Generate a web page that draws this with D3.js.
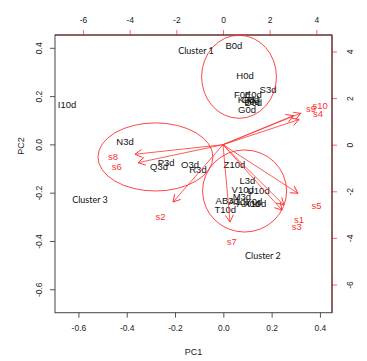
<!DOCTYPE html>
<html>
<head>
<meta charset="utf-8">
<script src="https://cdn.jsdelivr.net/npm/d3@7"></script>
<style>
  body { margin: 0; background: #fff; }
  svg { display: block; font-family: "Liberation Sans", Arial, sans-serif; }
</style>
</head>
<body>
<div class="biplot"></div>
<script>
// PCA scores (PC1, PC2)
var scoreLabels = ["B0d","H0d","S3d","F0d","E0d","K0d","C0d","J0d","D0d","G0d",
                   "I10d","N3d","P3d","Q3d","O3d","R3d","Z10d","L3d","V10d","U10d",
                   "M3d","AB3d","A3d","AA0d","Y0d","X10d","T10d"];
var scoreX = [0.044,0.090,0.185,0.078,0.124,0.095,0.112,0.120,0.124,0.098,
              -0.647,-0.407,-0.237,-0.266,-0.138,-0.105,0.046,0.100,0.080,0.145,
              0.077,0.016,0.056,0.104,0.126,0.132,0.008];
var scoreY = [0.407,0.283,0.225,0.204,0.206,0.187,0.184,0.176,0.172,0.143,
              0.163,0.010,-0.077,-0.094,-0.082,-0.106,-0.082,-0.150,-0.188,-0.193,
              -0.218,-0.232,-0.238,-0.244,-0.236,-0.246,-0.272];

// loadings (secondary axes)
var loadLabels = ["s1","s2","s3","s4","s5","s6","s7","s8","s9","s10"];
var loadX = [2.61,-2.14,2.53,3.26,3.21,-3.64,0.30,-3.77,3.02,3.33];
var loadY = [-2.59,-2.46,-2.81,1.08,-2.08,-0.77,-3.32,-0.41,1.25,1.35];

// cluster ellipses (PC units)
var clusterNames = ["Cluster 1","Cluster 2","Cluster 3"];
var clusterCx = [0.065,0.088,-0.281];
var clusterCy = [0.280,-0.193,-0.052];
var clusterRx = [0.155,0.174,0.238];
var clusterRy = [0.172,0.170,0.141];
var clusterTextX = [-0.113,0.164,-0.552];
var clusterTextY = [0.386,-0.463,-0.231];

var pcTicks = [-0.6,-0.4,-0.2,0,0.2,0.4];
var loadTicks = [-6,-4,-2,0,2,4];

function init() {
  var w = 367;
  var h = 361;
  var left = 55, right = 332, top = 35, bottom = 312.7;

  var xScale = d3.scaleLinear().domain([-0.697, 0.450]).range([left, right]);
  var yScale = d3.scaleLinear().domain([-0.697, 0.453]).range([bottom, top]);
  var x2 = d3.scaleLinear().domain([-7.2, 4.672]).range([left, right]);
  var y2 = d3.scaleLinear().domain([-7.21, 4.708]).range([bottom, top]);

  var svg = d3.select(".biplot")
    .append("svg")
    .attr("width", w)
    .attr("height", h);

  var red = "#ff3030";

  svg.append("defs").append("marker")
    .attr("id", "head")
    .attr("markerUnits", "userSpaceOnUse")
    .attr("viewBox", "-8 -5 10 10")
    .attr("markerWidth", 10)
    .attr("markerHeight", 10)
    .attr("refX", 0)
    .attr("refY", 0)
    .attr("orient", "auto")
    .append("path")
    .attr("d", "M-7,-4L0,0L-7,4")
    .attr("fill", "none")
    .attr("stroke", red)
    .attr("stroke-width", 0.9);

  // primary axes
  var fmt = function(d) { return d.toFixed(1); };
  var bottomAxis = svg.append("g")
    .attr("transform", "translate(0," + bottom + ")")
    .call(d3.axisBottom(xScale).tickValues(pcTicks).tickFormat(fmt).tickSize(5).tickPadding(7));
  var leftAxis = svg.append("g")
    .attr("transform", "translate(" + left + ",0)")
    .call(d3.axisLeft(yScale).tickValues(pcTicks).tickFormat(fmt).tickSize(5).tickPadding(7));
  leftAxis.selectAll("text")
    .attr("transform", "rotate(-90,-16,0)")
    .attr("x", -16)
    .attr("y", 0)
    .attr("dy", "0.35em")
    .attr("text-anchor", "middle");

  // secondary axes
  var fmt2 = function(d) { return String(d); };
  var topAxis = svg.append("g")
    .attr("transform", "translate(0," + top + ")")
    .call(d3.axisTop(x2).tickValues(loadTicks).tickFormat(fmt2).tickSize(5).tickPadding(7));
  var rightAxis = svg.append("g")
    .attr("transform", "translate(" + right + ",0)")
    .call(d3.axisRight(y2).tickValues(loadTicks).tickFormat(fmt2).tickSize(5).tickPadding(7));
  rightAxis.selectAll("text")
    .attr("transform", "rotate(-90,18,0)")
    .attr("x", 18)
    .attr("y", 0)
    .attr("dy", "0.35em")
    .attr("text-anchor", "middle");

  [bottomAxis, leftAxis, topAxis, rightAxis].forEach(function(g) {
    g.select(".domain").remove();
    g.selectAll("text")
      .style("font-size", "8.5px")
      .style("font-family", "Liberation Sans, Arial, sans-serif")
      .style("fill", "#222");
  });
  bottomAxis.selectAll("line").attr("stroke", "#555");
  leftAxis.selectAll("line").attr("stroke", "#555");
  topAxis.selectAll("line").attr("stroke", "#f66");
  rightAxis.selectAll("line").attr("stroke", "#f66");

  // box
  svg.append("rect")
    .attr("x", left).attr("y", top)
    .attr("width", right - left).attr("height", bottom - top)
    .attr("fill", "none").attr("stroke", "#444").attr("stroke-width", 1);
  svg.append("line")
    .attr("x1", left).attr("x2", right).attr("y1", top).attr("y2", top)
    .attr("stroke", "#7a2020").attr("stroke-width", 1);
  svg.append("line")
    .attr("x1", right).attr("x2", right).attr("y1", top).attr("y2", bottom)
    .attr("stroke", "#7a2020").attr("stroke-width", 1);

  // score labels
  svg.selectAll(".score")
    .data(scoreLabels)
    .enter()
    .append("text")
    .attr("class", "score")
    .attr("x", function(d, i) { return xScale(scoreX[i]); })
    .attr("y", function(d, i) { return yScale(scoreY[i]); })
    .attr("dy", "0.35em")
    .attr("text-anchor", "middle")
    .style("font-size", "9.5px")
    .attr("fill", "#111")
    .text(function(d) { return d; });

  // loading arrows
  svg.selectAll(".arrow")
    .data(loadLabels)
    .enter()
    .append("line")
    .attr("class", "arrow")
    .attr("x1", x2(0))
    .attr("y1", y2(0))
    .attr("x2", function(d, i) { return x2(loadX[i]); })
    .attr("y2", function(d, i) { return y2(loadY[i]); })
    .attr("stroke", red)
    .attr("stroke-width", 0.8)
    .attr("marker-end", "url(#head)");

  svg.selectAll(".load")
    .data(loadLabels)
    .enter()
    .append("text")
    .attr("class", "load")
    .attr("x", function(d, i) { return x2(loadX[i] * 1.25); })
    .attr("y", function(d, i) { return y2(loadY[i] * 1.25); })
    .attr("dy", "0.35em")
    .attr("text-anchor", "middle")
    .style("font-size", "9.5px")
    .attr("fill", red)
    .text(function(d) { return d; });

  // clusters
  svg.selectAll(".cluster")
    .data(clusterNames)
    .enter()
    .append("ellipse")
    .attr("class", "cluster")
    .attr("cx", function(d, i) { return xScale(clusterCx[i]); })
    .attr("cy", function(d, i) { return yScale(clusterCy[i]); })
    .attr("rx", function(d, i) { return xScale(clusterCx[i] + clusterRx[i]) - xScale(clusterCx[i]); })
    .attr("ry", function(d, i) { return yScale(clusterCy[i]) - yScale(clusterCy[i] + clusterRy[i]); })
    .attr("fill", "none")
    .attr("stroke", red)
    .attr("stroke-width", 0.9);

  svg.selectAll(".clabel")
    .data(clusterNames)
    .enter()
    .append("text")
    .attr("class", "clabel")
    .attr("x", function(d, i) { return xScale(clusterTextX[i]); })
    .attr("y", function(d, i) { return yScale(clusterTextY[i]); })
    .attr("dy", "0.35em")
    .attr("text-anchor", "middle")
    .style("font-family", "Lato, sans-serif")
    .style("font-size", "9px")
    .attr("fill", "#111")
    .text(function(d) { return d; });

  // axis titles
  svg.append("text")
    .attr("x", (left + right) / 2)
    .attr("y", 352)
    .attr("dy", "0.35em")
    .attr("text-anchor", "middle")
    .style("font-size", "9px")
    .attr("fill", "#222")
    .text("PC1");

  svg.append("text")
    .attr("transform", "translate(21,146) rotate(-90)")
    .attr("dy", "0.35em")
    .attr("text-anchor", "middle")
    .style("font-size", "9px")
    .attr("fill", "#222")
    .text("PC2");
}
window.onload = init;
</script>
</body>
</html>
